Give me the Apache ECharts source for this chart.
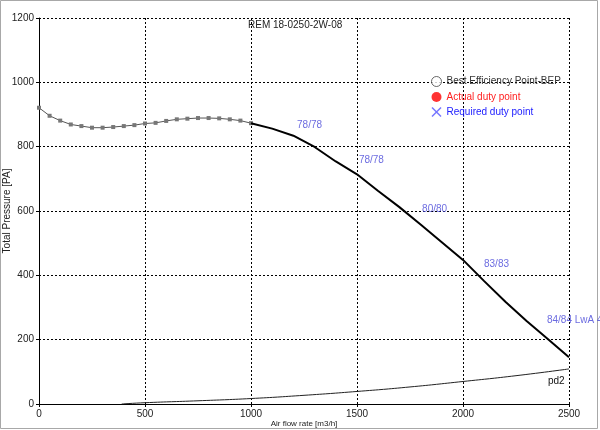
<!DOCTYPE html>
<html>
<head>
<meta charset="utf-8">
<script src="https://cdn.jsdelivr.net/npm/echarts@6/dist/echarts.min.js"></script>
<style>html,body{margin:0;padding:0;background:#fff}#c{width:600px;height:430px}</style>
</head>
<body>
<div id="c"></div>
<script>
// Fan curve, low-flow part (with markers)
const lowFlow = [0,50,100,150,200,250,300,350,400,450,500,550,600,650,700,750,800,850,900,950,1000];
const lowPressure = [921,896,881,869,864,859,859,861,864,867,872,874,880,885,887,889,889,888,885,881,873];
// Fan curve, operating part (thick)
const highFlow = [1000,1100,1200,1300,1400,1500,1600,1700,1800,1900,2000,2100,2200,2300,2400,2500];
const highPressure = [873,856,834,799,754,714,662,612,558,503,448,382,318,258,202,145];
// Dynamic pressure pd2
const pdFlow = [390,500,750,1000,1250,1500,1750,2000,2250,2500];
const pdPressure = [0,4,10,17,27,39,53,70,88,109];
// Efficiency / sound labels
const labelFlow = [1217,1509,1807,2099,2396];
const labelPressure = [867,758,606,435,261];
const labelText = ['78/78','78/78','80/80','83/83','84/84 LwA 4'];
// Axes
const xTicks = [0,500,1000,1500,2000,2500];
const yTicks = [0,200,400,600,800,1000,1200];
const legendNames = ['Best Efficiency Point-BEP','Actual duty point','Required duty point'];
const title = 'REM 18-0250-2W-08';

const font = 'Liberation Sans, Arial, sans-serif';
const chart = echarts.init(document.getElementById('c'), null, {renderer:'canvas'});
const zip = (a,b) => a.map((v,i)=>[v,b[i]]);

chart.setOption({
  animation:false,
  backgroundColor:'#fff',
  textStyle:{fontFamily:font},
  title:{text:title,left:248,top:20,padding:0,textStyle:{fontSize:10,fontWeight:'normal',color:'#222',fontFamily:font}},
  grid:{left:39,right:31,top:18,bottom:26,containLabel:false,outerBoundsMode:'none'},
  legend:{
    orient:'vertical',left:426,top:71,itemGap:5,itemWidth:10,itemHeight:10,padding:5,
    textStyle:{fontSize:10,fontFamily:font},
    data:[
      {name:legendNames[0],icon:'circle',itemStyle:{color:'#fff',borderColor:'#444',borderWidth:1},textStyle:{color:'#333'}},
      {name:legendNames[1],icon:'circle',itemStyle:{color:'#ff0000'},textStyle:{color:'#ff2020'}},
      {name:legendNames[2],icon:'path://M1,0L5,4L9,0L10,1L6,5L10,9L9,10L5,6L1,10L0,9L4,5L0,1Z',itemStyle:{color:'#5050ff'},textStyle:{color:'#2020ff'}}
    ]
  },
  xAxis:{
    type:'value',min:xTicks[0],max:xTicks[xTicks.length-1],interval:500,
    name:'Air flow rate [m3/h]',nameLocation:'middle',nameGap:16,nameMoveOverlap:false,
    nameTextStyle:{fontSize:8,color:'#222',fontFamily:font},
    axisLine:{lineStyle:{color:'#000',width:1}},
    axisTick:{show:true,length:3,lineStyle:{color:'#000'}},
    axisLabel:{fontSize:10,color:'#222',margin:5,fontFamily:font,formatter:v=>String(v)},
    splitLine:{show:true,lineStyle:{color:'#000',type:[2,2],width:1}}
  },
  yAxis:{
    type:'value',min:yTicks[0],max:yTicks[yTicks.length-1],interval:200,
    name:'Total Pressure [PA]',nameLocation:'middle',nameGap:27,nameMoveOverlap:false,
    nameTextStyle:{fontSize:10,color:'#222',fontFamily:font},
    axisLine:{show:true,lineStyle:{color:'#000',width:1}},
    axisTick:{show:true,length:3,lineStyle:{color:'#000'}},
    axisLabel:{fontSize:10,color:'#222',margin:5,fontFamily:font,formatter:v=>String(v)},
    splitLine:{show:true,lineStyle:{color:'#000',type:[2,2],width:1}}
  },
  graphic:[{type:'rect',shape:{x:0.5,y:0.5,width:597,height:428},style:{fill:null,stroke:'#a8a8a8',lineWidth:1},z:-1}],
  series:[
    {type:'line',data:zip(lowFlow,lowPressure),symbol:'rect',symbolSize:4,showSymbol:true,
      itemStyle:{color:'#777'},lineStyle:{color:'#555',width:1},silent:true,z:3},
    {type:'line',data:zip(highFlow,highPressure),symbol:'none',lineStyle:{color:'#000',width:2},z:4},
    {type:'line',data:zip(pdFlow,pdPressure),symbol:'none',smooth:true,lineStyle:{color:'#222',width:1},
      endLabel:{show:true,formatter:'pd2',offset:[-29,12],fontSize:10,color:'#111',fontFamily:font},z:3},
    {type:'scatter',data:labelFlow.map((x,i)=>({value:[x,labelPressure[i]],name:labelText[i]})),
      symbolSize:0,
      label:{show:true,position:'right',distance:0,formatter:p=>p.name,fontSize:10,color:'#4646d8',fontFamily:font},z:5},
    {name:legendNames[0],type:'scatter',data:[]},
    {name:legendNames[1],type:'scatter',data:[]},
    {name:legendNames[2],type:'scatter',data:[]}
  ]
});
</script>
</body>
</html>
